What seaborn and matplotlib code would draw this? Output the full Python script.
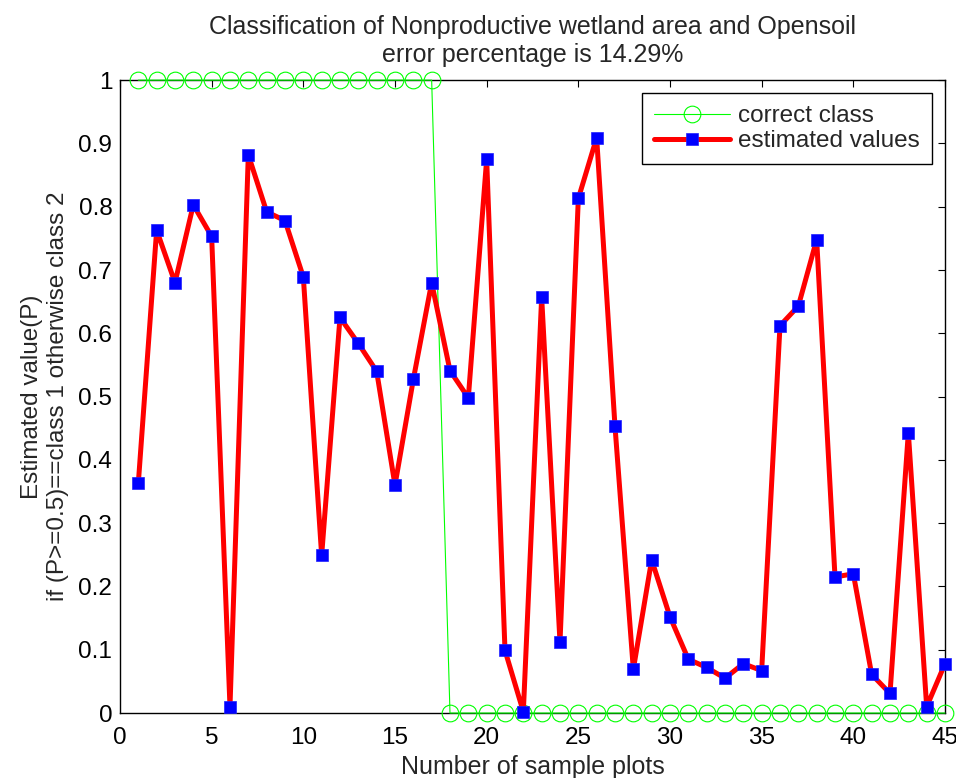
import numpy as np
import pandas as pd
import matplotlib
matplotlib.use("Agg")
import matplotlib.pyplot as plt
import seaborn as sns

sample_plots = list(range(1, 46))
correct_class = [1] * 17 + [0] * 28
estimated_values = [0.363, 0.763, 0.680, 0.803, 0.753, 0.010, 0.882, 0.792, 0.778, 0.689,
                    0.249, 0.625, 0.584, 0.540, 0.360, 0.527, 0.680, 0.541, 0.498, 0.875,
                    0.099, 0.002, 0.657, 0.112, 0.813, 0.909, 0.453, 0.069, 0.242, 0.152,
                    0.085, 0.072, 0.055, 0.078, 0.067, 0.612, 0.643, 0.748, 0.215, 0.220,
                    0.061, 0.031, 0.443, 0.010, 0.078]
x_ticks = [0, 5, 10, 15, 20, 25, 30, 35, 40, 45]
y_ticks = [0, 0.1, 0.2, 0.3, 0.4, 0.5, 0.6, 0.7, 0.8, 0.9, 1]
y_tick_labels = ["0", "0.1", "0.2", "0.3", "0.4", "0.5", "0.6", "0.7", "0.8", "0.9", "1"]

df = pd.DataFrame({"x": sample_plots, "correct": correct_class, "est": estimated_values})

sns.set_theme(style="white")
plt.rcParams['font.family'] = ['Liberation Sans', 'DejaVu Sans']

fig = plt.figure(figsize=(9.56, 7.78), dpi=100)
ax = fig.add_axes([0.1255, 0.0835, 0.863, 0.8135])

sns.lineplot(data=df, x="x", y="correct", ax=ax, color="#00ff00", lw=0.8,
             marker="o", markersize=12, markerfacecolor="none",
             markeredgecolor="#00ff00", markeredgewidth=0.8, label="correct class",
             clip_on=False, zorder=3)
sns.lineplot(data=df, x="x", y="est", ax=ax, color="red", lw=3.6,
             marker="s", markersize=8, markerfacecolor="blue",
             markeredgecolor="#2020ff", markeredgewidth=0.5, label="estimated values",
             clip_on=False, zorder=4)

ax.set_xlim(0, 45)
ax.set_ylim(0, 1)
ax.set_xticks(x_ticks)
ax.set_yticks(y_ticks)
ax.set_yticklabels(y_tick_labels)
ax.tick_params(direction="in", length=5, width=0.8, top=True, right=True,
               labelsize=17.5, colors="black")
ax.tick_params(axis="x", pad=10)
ax.tick_params(axis="y", pad=5.5)
for s in ax.spines.values():
    s.set_color("black")
    s.set_linewidth(1.0)
    s.set_visible(True)

ax.set_xlabel("Number of sample plots", fontsize=18, labelpad=4.7)
ax.set_ylabel("Estimated value(P)\nif (P>=0.5)==class 1 otherwise class 2", fontsize=17.5, labelpad=7)
ax.set_title("Classification of Nonproductive wetland area and Opensoil\nerror percentage is 14.29%",
             fontsize=18, pad=13)

leg = ax.legend(loc="upper right", fontsize=17.5, frameon=True, fancybox=False,
                edgecolor="black", framealpha=1, borderaxespad=0.53,
                handlelength=3.1, handletextpad=0.35, borderpad=0.5, labelspacing=0.12)
leg.get_frame().set_linewidth(1.0)
leg.set_zorder(10)

fig.savefig("out.png", dpi=100)
